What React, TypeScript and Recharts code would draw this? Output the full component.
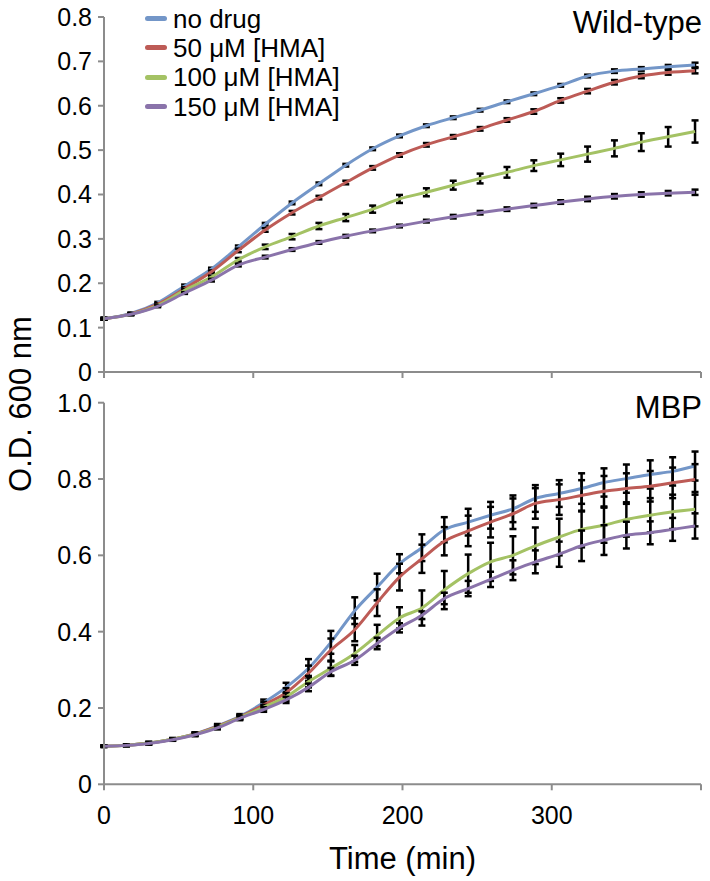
import { LineChart, Line, XAxis, YAxis, ErrorBar, Legend } from 'recharts';

// Wild-type panel, sampled every 18 min
const topTime = [0, 18, 36, 54, 72, 90, 108, 126, 144, 162, 180, 198, 216, 234, 252, 270, 288, 306, 324, 342, 360, 378, 396];
const topNoDrug = [0.120, 0.132, 0.156, 0.194, 0.232, 0.282, 0.333, 0.381, 0.424, 0.466, 0.503, 0.532, 0.555, 0.573, 0.590, 0.609, 0.627, 0.646, 0.667, 0.678, 0.683, 0.688, 0.692];
const topHma50 = [0.120, 0.131, 0.153, 0.188, 0.226, 0.274, 0.320, 0.359, 0.393, 0.427, 0.460, 0.489, 0.512, 0.530, 0.548, 0.568, 0.587, 0.612, 0.633, 0.653, 0.667, 0.675, 0.679];
const topHma100 = [0.120, 0.130, 0.150, 0.184, 0.214, 0.253, 0.282, 0.305, 0.329, 0.348, 0.367, 0.390, 0.405, 0.421, 0.436, 0.450, 0.465, 0.478, 0.491, 0.504, 0.518, 0.530, 0.542];
const topHma150 = [0.120, 0.130, 0.148, 0.178, 0.207, 0.241, 0.259, 0.276, 0.292, 0.306, 0.318, 0.329, 0.340, 0.350, 0.359, 0.367, 0.375, 0.383, 0.390, 0.396, 0.400, 0.403, 0.405];
const topNoDrugErr = [0.002, 0.002, 0.002, 0.003, 0.003, 0.003, 0.003, 0.003, 0.003, 0.003, 0.003, 0.003, 0.003, 0.003, 0.003, 0.003, 0.003, 0.003, 0.003, 0.004, 0.004, 0.004, 0.005];
const topHma50Err = [0.002, 0.002, 0.002, 0.003, 0.003, 0.004, 0.004, 0.004, 0.004, 0.004, 0.004, 0.004, 0.004, 0.004, 0.004, 0.004, 0.005, 0.005, 0.005, 0.005, 0.005, 0.005, 0.006];
const topHma100Err = [0.002, 0.002, 0.002, 0.003, 0.003, 0.004, 0.005, 0.006, 0.007, 0.008, 0.008, 0.009, 0.009, 0.010, 0.011, 0.012, 0.012, 0.014, 0.017, 0.018, 0.020, 0.022, 0.025];
const topHma150Err = [0.002, 0.002, 0.002, 0.002, 0.003, 0.003, 0.003, 0.003, 0.003, 0.003, 0.003, 0.003, 0.003, 0.004, 0.004, 0.004, 0.004, 0.004, 0.005, 0.005, 0.005, 0.005, 0.006];

// MBP panel
const bottomTime = [0, 15, 30, 46, 61, 76, 91, 107, 122, 137, 152, 168, 183, 198, 213, 228, 244, 259, 274, 289, 305, 320, 335, 350, 366, 381, 396];
const bottomNoDrug = [0.100, 0.102, 0.108, 0.118, 0.132, 0.153, 0.178, 0.214, 0.254, 0.304, 0.372, 0.455, 0.517, 0.578, 0.620, 0.667, 0.687, 0.705, 0.722, 0.749, 0.762, 0.775, 0.791, 0.801, 0.812, 0.820, 0.834];
const bottomHma50 = [0.100, 0.102, 0.108, 0.118, 0.132, 0.152, 0.176, 0.208, 0.240, 0.291, 0.352, 0.405, 0.476, 0.543, 0.591, 0.637, 0.664, 0.687, 0.709, 0.736, 0.746, 0.757, 0.768, 0.775, 0.781, 0.790, 0.799];
const bottomHma100 = [0.100, 0.102, 0.108, 0.118, 0.131, 0.150, 0.175, 0.202, 0.229, 0.269, 0.304, 0.343, 0.390, 0.436, 0.462, 0.509, 0.552, 0.583, 0.600, 0.625, 0.648, 0.668, 0.679, 0.694, 0.705, 0.714, 0.721];
const bottomHma150 = [0.100, 0.102, 0.107, 0.117, 0.130, 0.148, 0.173, 0.196, 0.221, 0.254, 0.295, 0.325, 0.369, 0.410, 0.443, 0.487, 0.513, 0.537, 0.561, 0.583, 0.603, 0.625, 0.640, 0.653, 0.659, 0.668, 0.677];
const bottomNoDrugErr = [0.002, 0.002, 0.003, 0.003, 0.004, 0.005, 0.006, 0.008, 0.012, 0.024, 0.030, 0.035, 0.035, 0.025, 0.035, 0.033, 0.035, 0.035, 0.035, 0.035, 0.035, 0.040, 0.037, 0.037, 0.037, 0.037, 0.038];
const bottomHma50Err = [0.002, 0.002, 0.003, 0.003, 0.004, 0.005, 0.006, 0.008, 0.012, 0.020, 0.030, 0.030, 0.035, 0.035, 0.037, 0.037, 0.040, 0.040, 0.040, 0.040, 0.040, 0.040, 0.040, 0.040, 0.040, 0.040, 0.040];
const bottomHma100Err = [0.002, 0.002, 0.003, 0.003, 0.004, 0.005, 0.005, 0.006, 0.010, 0.015, 0.020, 0.022, 0.028, 0.028, 0.046, 0.050, 0.050, 0.050, 0.050, 0.048, 0.048, 0.047, 0.046, 0.045, 0.045, 0.045, 0.045];
const bottomHma150Err = [0.002, 0.002, 0.003, 0.003, 0.004, 0.004, 0.005, 0.006, 0.008, 0.010, 0.010, 0.012, 0.015, 0.012, 0.010, 0.015, 0.020, 0.020, 0.026, 0.030, 0.033, 0.040, 0.039, 0.035, 0.030, 0.030, 0.033];

const seriesKeys = ['noDrug', 'hma50', 'hma100', 'hma150'];
const seriesNames = ['no drug', '50 μM [HMA]', '100 μM [HMA]', '150 μM [HMA]'];
const seriesColors = ['#7396c8', '#bd5b56', '#a4c264', '#8a73aa'];

const xTicks = [0, 100, 200, 300, 400];
const topYTicks = [0, 0.1, 0.2, 0.3, 0.4, 0.5, 0.6, 0.7, 0.8];
const bottomYTicks = [0, 0.2, 0.4, 0.6, 0.8, 1.0];

const font = '"Liberation Sans", Arial, Helvetica, sans-serif';
const axisGray = '#8c8c8c';

const topData = topTime.map((t, i) => ({
  t,
  noDrug: topNoDrug[i], noDrugErr: topNoDrugErr[i],
  hma50: topHma50[i], hma50Err: topHma50Err[i],
  hma100: topHma100[i], hma100Err: topHma100Err[i],
  hma150: topHma150[i], hma150Err: topHma150Err[i],
}));

const bottomData = bottomTime.map((t, i) => ({
  t,
  noDrug: bottomNoDrug[i], noDrugErr: bottomNoDrugErr[i],
  hma50: bottomHma50[i], hma50Err: bottomHma50Err[i],
  hma100: bottomHma100[i], hma100Err: bottomHma100Err[i],
  hma150: bottomHma150[i], hma150Err: bottomHma150Err[i],
}));

const yFmt = (v: number) => (v === 0 ? '0' : v.toFixed(1));
const tickStyle = { fill: '#000', fontSize: 25, fontFamily: font };
const lineStyle = { stroke: axisGray, strokeWidth: 2 };

const renderLines = () =>
  seriesKeys.map((key, i) => (
    <Line
      key={key}
      type="monotone"
      dataKey={key}
      stroke={seriesColors[i]}
      strokeWidth={3}
      dot={false}
      isAnimationActive={false}
    >
      <ErrorBar dataKey={`${key}Err`} width={3.5} strokeWidth={2.5} stroke="#000" direction="y" />
    </Line>
  ));

const LegendBox = () => (
  <div style={{ fontFamily: font, fontSize: 26, color: '#000' }}>
    {seriesNames.map((name, i) => (
      <div key={name} style={{ display: 'flex', alignItems: 'center', height: 29.3 }}>
        <span
          style={{
            display: 'inline-block',
            width: 22,
            height: 5,
            borderRadius: 3,
            background: seriesColors[i],
            marginRight: 6,
          }}
        />
        <span style={{ lineHeight: 1, whiteSpace: 'nowrap' }}>{name}</span>
      </div>
    ))}
  </div>
);

export default function App() {
  return (
    <div
      style={{
        position: 'relative',
        width: 710,
        height: 881,
        margin: '-8px 0 0 -8px',
        background: '#fff',
        fontFamily: font,
        overflow: 'hidden',
      }}
    >
      <div style={{ position: 'absolute', left: 0, top: 0 }}>
        <LineChart width={710} height={390} data={topData} margin={{ top: 17, right: 9, left: 0, bottom: 5 }}>
          <XAxis
            dataKey="t"
            type="number"
            domain={[0, 400]}
            ticks={xTicks}
            interval={0}
            tickFormatter={() => ''}
            height={13}
            tickSize={6}
            axisLine={lineStyle}
            tickLine={lineStyle}
          />
          <YAxis
            type="number"
            domain={[0, 0.8]}
            ticks={topYTicks}
            interval={0}
            tickFormatter={yFmt}
            width={104}
            tickSize={6}
            tickMargin={6}
            axisLine={lineStyle}
            tickLine={lineStyle}
            tick={tickStyle}
          />
          <Legend
            layout="horizontal"
            verticalAlign="middle"
            align="center"
            wrapperStyle={{ top: 4, left: 145, width: 'auto' }}
            content={() => <LegendBox />}
          />
          {renderLines()}
        </LineChart>
      </div>

      <div style={{ position: 'absolute', left: 0, top: 380 }}>
        <LineChart width={710} height={501} data={bottomData} margin={{ top: 22.7, right: 9, left: 0, bottom: 0 }}>
          <XAxis
            dataKey="t"
            type="number"
            domain={[0, 400]}
            ticks={xTicks}
            interval={0}
            tickFormatter={(v: number) => (v === 400 ? '' : String(v))}
            height={96.7}
            tickSize={6}
            tickMargin={16}
            axisLine={lineStyle}
            tickLine={lineStyle}
            tick={tickStyle}
            label={{ value: 'Time (min)', position: 'insideBottom', offset: 12, fill: '#000', fontSize: 31, fontFamily: font }}
          />
          <YAxis
            type="number"
            domain={[0, 1]}
            ticks={bottomYTicks}
            interval={0}
            tickFormatter={yFmt}
            width={104}
            tickSize={6}
            tickMargin={6}
            axisLine={lineStyle}
            tickLine={lineStyle}
            tick={tickStyle}
          />
          {renderLines()}
        </LineChart>
      </div>

      <div style={{ position: 'absolute', right: 8, top: 6.6, fontSize: 31, lineHeight: 1, color: '#000' }}>Wild-type</div>
      <div style={{ position: 'absolute', right: 8, top: 391.6, fontSize: 31, lineHeight: 1, color: '#000' }}>MBP</div>
      <div
        style={{
          position: 'absolute',
          left: 20,
          top: 404,
          fontSize: 31,
          lineHeight: 1,
          color: '#000',
          whiteSpace: 'nowrap',
          transform: 'translate(-50%, -50%) rotate(-90deg)',
        }}
      >
        O.D. 600 nm
      </div>
    </div>
  );
}
